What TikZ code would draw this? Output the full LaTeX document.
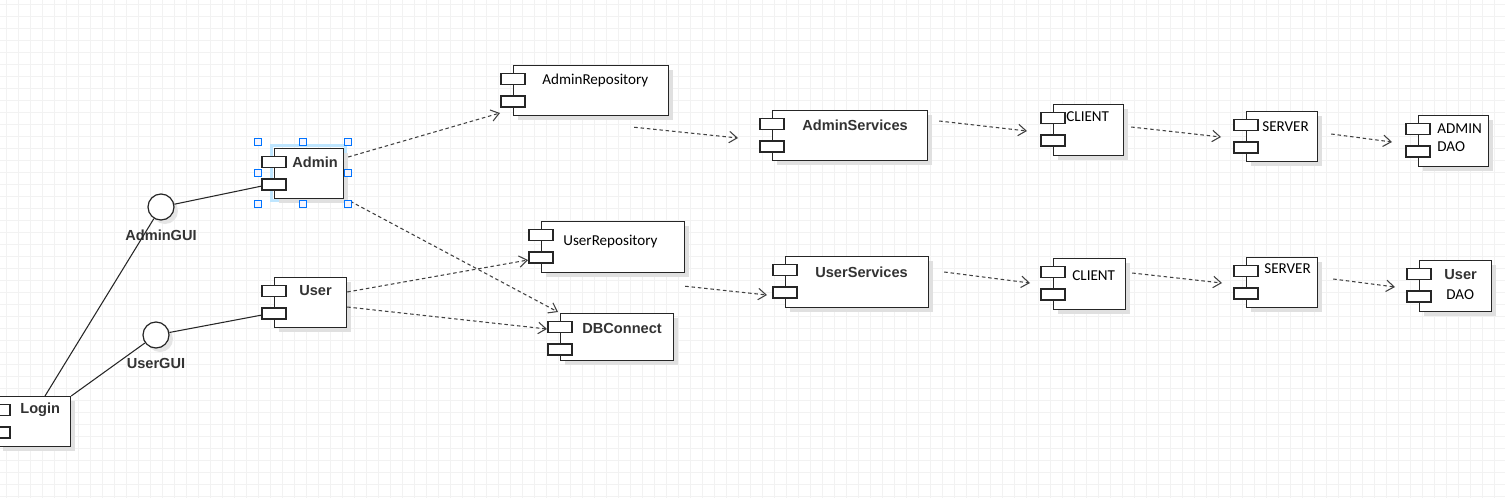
\documentclass[tikz,border=0pt]{standalone}
\usepackage{fontspec}
\setmainfont{Liberation Sans}
\newfontfamily\calfont{Carlito}
\usetikzlibrary{arrows.meta,shadows}

\tikzset{
  compbox/.style={draw=black!85, fill=white, line width=0.7pt, inner sep=0pt, anchor=north west,
    drop shadow={shadow xshift=0.09cm, shadow yshift=-0.09cm, fill=black!12, opacity=1}},
  tabbox/.style={draw=black!85, fill=white, line width=0.65pt},
  iface/.style={circle, draw=black!85, fill=white, line width=0.7pt, minimum size=0.52cm, inner sep=0pt,
    drop shadow={shadow xshift=0.08cm, shadow yshift=-0.08cm, fill=black!10, opacity=1}},
  boldlbl/.style={font=\fontsize{8.3}{9}\selectfont\bfseries, text=black!80, inner sep=0pt},
  callbl/.style={font=\fontsize{8.6}{10}\selectfont\calfont, inner sep=0pt},
  dep/.style={draw=black!75, line width=0.6pt, dash pattern=on 2pt off 1.6pt,
    -{Straight Barb[length=4.5pt,width=6.5pt]}},
  assoc/.style={draw=black!85, line width=0.6pt},
  handle/.style={draw=blue!55!cyan, fill=blue!4, line width=0.5pt},
  glow/.style={draw=blue!40!cyan!25, line width=2.2pt},
  gridline/.style={black!5, line width=0.4pt}
}

% component: name, left, top, width, height (pixels)
\newcommand\comp[5]{%
  \node[compbox, minimum width=#4*0.02cm, minimum height=#5*0.02cm] (#1) at (#2,#3) {};
  \draw[tabbox] ([shift={(-12,8.5)}]#1.north west) rectangle +(24,11);
  \draw[tabbox] ([shift={(-12,31)}]#1.north west) rectangle +(24,11);
}

\begin{document}
\begin{tikzpicture}[x=0.02cm, y=-0.02cm]
\useasboundingbox (0,0) rectangle (1505,498);
\clip (0,0) rectangle (1505,498);
\fill[white] (0,0) rectangle (1505,498);
% background grid
\foreach \gx in {6,18,...,1505} \draw[gridline] (\gx,0) -- (\gx,498);
\foreach \gy in {4,16,...,498} \draw[gridline] (0,\gy) -- (1505,\gy);

% selected component halo
\draw[glow] (271.5,145.5) rectangle (345.5,200.5);

% components
\comp{login}{-2}{396}{72}{50}
\comp{admin}{274}{148}{69}{50}
\comp{user}{274}{277}{72}{50}
\comp{arepo}{513}{65}{155}{50}
\comp{urepo}{541}{221}{143}{51}
\comp{dbc}{560}{313}{113}{47}
\comp{asvc}{772}{110}{155}{50}
\comp{usvc}{785}{256}{143}{51}
\comp{acli}{1053}{104}{70}{51}
\comp{asrv}{1246}{111}{71}{50}
\comp{adao}{1418}{115}{70}{51}
\comp{ucli}{1053}{258}{72}{51}
\comp{usrv}{1246}{257}{71}{50}
\comp{udao}{1419}{260}{72}{51}

% interfaces
\node[iface] (agui) at (161,207) {};
\node[iface] (ugui) at (156,335) {};

% labels
\node[boldlbl, anchor=west] (login-txt) at (20,410) {Login};
\node[boldlbl, anchor=west] (admin-txt) at (292,162) {Admin};
\node[boldlbl, anchor=west] (user-txt) at (299,291) {User};
\node[boldlbl] (agui-txt) at (161,235) {AdminGUI};
\node[boldlbl] (ugui-txt) at (156,363) {UserGUI};
\node[callbl, anchor=west] (arepo-txt) at (542,80) {AdminRepository};
\node[boldlbl, anchor=west] (asvc-txt) at (802,125) {AdminServices};
\node[callbl, anchor=west] (urepo-txt) at (563,242) {UserRepository};
\node[boldlbl, anchor=west] (dbc-txt) at (582,328) {DBConnect};
\node[boldlbl, anchor=west] (usvc-txt) at (815,272) {UserServices};
\node[callbl, anchor=west] (acli-txt) at (1066,117) {CLIENT};
\node[callbl, anchor=west] (asrv-txt) at (1262,127) {SERVER};
\node[callbl, anchor=west] (adao-txt) at (1437,129) {ADMIN};
\node[callbl, anchor=west] (adao-txt2) at (1437,147) {DAO};
\node[callbl, anchor=west] (ucli-txt) at (1072,276) {CLIENT};
\node[callbl, anchor=west] (usrv-txt) at (1264,269) {SERVER};
\node[boldlbl, anchor=west] (udao-txt) at (1444,275) {User};
\node[callbl, anchor=west] (udao-txt2) at (1446,295) {DAO};

% assembly lines
\draw[assoc] ([shift={(47,0)}]login.north west) -- (agui);
\draw[assoc] (agui) -- ([shift={(-12,38)}]admin.north west);
\draw[assoc] (login.north east) -- (ugui);
\draw[assoc] (ugui) -- ([shift={(-12,38)}]user.north west);

% dependencies
\draw[dep] ([shift={(4,9)}]admin.north east) -- ([shift={(-13,48)}]arepo.north west);
\draw[dep] ([shift={(6,2)}]admin.south east) -- ([shift={(-2,-1)}]dbc.north west);
\draw[dep] ([shift={(0,15)}]user.north east) -- ([shift={(-13,39)}]urepo.north west);
\draw[dep] ([shift={(0,30)}]user.north east) -- ([shift={(-13,16)}]dbc.north west);
\draw[dep] ([shift={(-35,11)}]arepo.south east) -- ([shift={(-34,28)}]asvc.north west);
\draw[dep] ([shift={(11,11)}]asvc.north east) -- ([shift={(-26,27)}]acli.north west);
\draw[dep] ([shift={(7,23)}]acli.north east) -- ([shift={(-25,26)}]asrv.north west);
\draw[dep] ([shift={(13,23)}]asrv.north east) -- ([shift={(-26,27)}]adao.north west);
\draw[dep] ([shift={(0,13)}]urepo.south east) -- ([shift={(-18,39)}]usvc.north west);
\draw[dep] ([shift={(15,16)}]usvc.north east) -- ([shift={(-23,25)}]ucli.north west);
\draw[dep] ([shift={(6,15)}]ucli.north east) -- ([shift={(-24,26)}]usrv.north west);
\draw[dep] ([shift={(15,22)}]usrv.north east) -- ([shift={(-24,27)}]udao.north west);

% selection handles
\foreach \hx/\hy in {258/142, 303/142, 348/142, 258/173, 348/173, 258/204, 303/204, 348/204}
  \draw[handle] (\hx,\hy) +(-3.5,-3.5) rectangle +(3.5,3.5);
\end{tikzpicture}
\end{document}
